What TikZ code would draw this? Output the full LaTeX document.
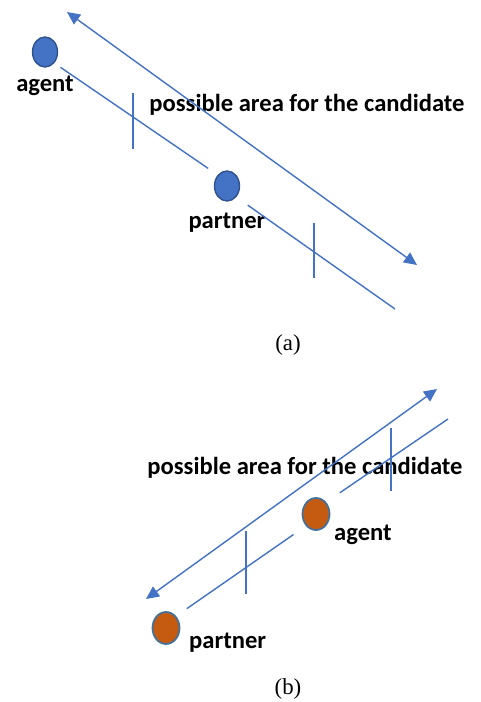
\documentclass[tikz,border=0pt]{standalone}
\usepackage{fontspec}
\setmainfont{Liberation Serif}
\newfontfamily\calfont{Carlito}
\usepackage{xcolor}
\usepackage{tikz}
\usetikzlibrary{positioning,shapes.geometric,arrows.meta}

\definecolor{lineblue}{HTML}{4472C4}
\definecolor{dotblue}{HTML}{4472C4}
\definecolor{dotedge}{HTML}{2F528F}
\definecolor{dotorange}{HTML}{C55A11}
\definecolor{oredge}{HTML}{41719C}

\begin{document}
\begin{tikzpicture}[x=0.02cm, y=-0.02cm,
        >={Triangle[length=0.26cm, width=0.24cm]},
        ln/.style={draw=lineblue, line width=0.8pt},
        bluedot/.style={ellipse, draw=dotedge, fill=dotblue, line width=0.8pt, inner sep=0pt, minimum width=0.5cm, minimum height=0.6cm},
        orangedot/.style={ellipse, draw=oredge, fill=dotorange, line width=1pt, inner sep=0pt, minimum width=0.54cm, minimum height=0.64cm},
        lbl/.style={font=\calfont\bfseries\fontsize{14}{16}\selectfont, inner sep=0pt},
        subcap/.style={font=\fontsize{13}{15}\selectfont, inner sep=0pt}]
        \useasboundingbox (0,0) rectangle (480,702);

        % (a)
        \node[bluedot] (a-agent) at (45,52) {};
        \node[bluedot] (a-partner) at (227,186) {};
        \node[lbl, below=0.16cm of a-agent] (a-agent-lbl) {agent};
        \node[lbl, below=0.22cm of a-partner] (a-partner-lbl) {partner};
        \node[lbl] (a-area) at (307,105) {possible area for the candidate};
        \coordinate (a-tip1) at (67,12);
        \coordinate (a-tip2) at (417,265);
        \coordinate (a-end) at (395,309);
        \coordinate (a-t1) at (133,93);
        \coordinate (a-t1b) at (133,149);
        \coordinate (a-t2) at (314,223);
        \coordinate (a-t2b) at (314,278);
        \node[subcap] (a-cap) at (288,345) {(a)};

        \draw[ln, <->] (a-tip1) -- (a-tip2);
        \draw[ln, shorten <=0.15cm, shorten >=0.23cm] (a-agent.south east) -- (a-partner.north west);
        \draw[ln, shorten <=0.28cm] (a-partner.south east) -- (a-end);
        \draw[ln] (a-t1) -- (a-t1b);
        \draw[ln] (a-t2) -- (a-t2b);

        % (b)
        \node[orangedot] (b-agent) at (316,514) {};
        \node[orangedot] (b-partner) at (166,628) {};
        \node[lbl, right=0.07cm of b-agent, yshift=-0.42cm] (b-agent-lbl) {agent};
        \node[lbl, right=0.17cm of b-partner, yshift=-0.29cm] (b-partner-lbl) {partner};
        \node[lbl] (b-area) at (305,468) {possible area for the candidate};
        \coordinate (b-tip1) at (437,389);
        \coordinate (b-tip2) at (146,599);
        \coordinate (b-end) at (448,419);
        \coordinate (b-t1) at (391,428);
        \coordinate (b-t1b) at (391,491);
        \coordinate (b-t2) at (246,531);
        \coordinate (b-t2b) at (246,594);
        \node[subcap] (b-cap) at (288,689) {(b)};

        \draw[ln, <->] (b-tip1) -- (b-tip2);
        \draw[ln, shorten <=0.26cm, shorten >=0.3cm] (b-partner.north east) -- (b-agent.south west);
        \draw[ln, shorten <=0.33cm] (b-agent.north east) -- (b-end);
        \draw[ln] (b-t1) -- (b-t1b);
        \draw[ln] (b-t2) -- (b-t2b);
    \end{tikzpicture}
\end{document}
